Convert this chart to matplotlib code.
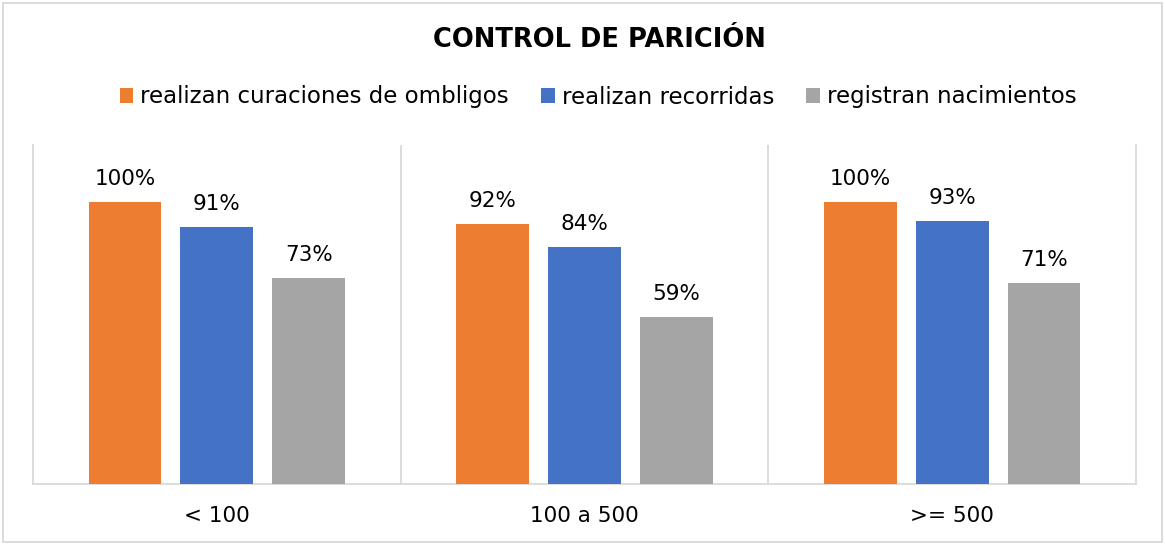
import matplotlib.pyplot as plt
from matplotlib.patches import Rectangle
import numpy as np

categories = ["< 100", "100 a 500", ">= 500"]
series_names = ["realizan curaciones de ombligos", "realizan recorridas", "registran nacimientos"]
curaciones = [100, 92, 100]
recorridas = [91, 84, 93]
nacimientos = [73, 59, 71]
colors = ["#ED7D31", "#4472C4", "#A5A5A5"]

plt.rcParams['font.family'] = ['DejaVu Sans']

fig = plt.figure(figsize=(11.65, 5.45), dpi=100)
ax = fig.add_axes([33 / 1165, 1 - 484 / 545, (1136 - 33) / 1165, (484 - 145) / 545])

x = np.arange(len(categories))
width = 0.198
offsets = [-0.25, 0.0, 0.25]
for vals, name, col, off in zip([curaciones, recorridas, nacimientos], series_names, colors, offsets):
    bars = ax.bar(x + off, vals, width, color=col, label=name, zorder=3)
    for b, v in zip(bars, vals):
        ax.text(b.get_x() + b.get_width() / 2, v + 4.6, f"{v}%", ha="center", va="bottom",
                fontsize=15.5, color="#000000")

ax.set_xlim(-0.5, len(categories) - 0.5)
ax.set_ylim(0, 120)
ax.set_yticks([])
ax.set_xticks(x)
ax.set_xticklabels(categories, fontsize=15.5)
ax.tick_params(axis="x", length=0, pad=16)
for xs in np.arange(0.5, len(categories) - 0.5, 1):
    ax.axvline(xs, color="#D9D9D9", lw=1.3, zorder=1)
ax.spines["top"].set_visible(False)
for s in ["left", "right", "bottom"]:
    ax.spines[s].set_color("#D9D9D9")
    ax.spines[s].set_linewidth(1.3)

fig.text(599 / 1165, 1 - 40 / 545, "CONTROL DE PARICIÓN", ha="center", va="center",
         fontsize=18.5, fontweight="bold")
fig.legend(loc="center", bbox_to_anchor=(598 / 1165, 1 - 97 / 545), ncol=3, frameon=False,
           fontsize=16.5, handlelength=0.6, handleheight=0.6, handletextpad=0.3,
           columnspacing=1.4)

fig.patches.append(Rectangle((3 / 1165, 3 / 545), 1 - 6 / 1165, 1 - 6 / 545,
                             transform=fig.transFigure, fill=False,
                             edgecolor="#D9D9D9", lw=1.3))

fig.savefig("out.png", dpi=100)
